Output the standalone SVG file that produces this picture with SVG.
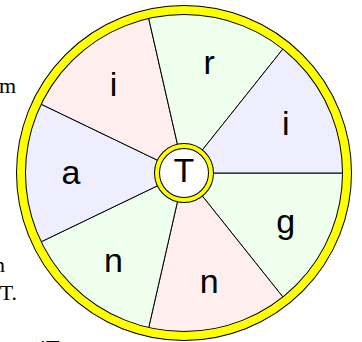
<svg xmlns="http://www.w3.org/2000/svg" width="362" height="342" viewBox="0 0 362 342">
<style>
.lbl{font-family:"Liberation Sans",Arial,sans-serif;font-size:34px;fill:#000;text-anchor:middle}
.side{font-family:"Liberation Serif","Times New Roman",serif;font-size:22px;fill:#000}
.w{stroke:#000;stroke-width:1}
.pink{fill:#ffeeee}
.green{fill:#eeffee}
.lav{fill:#eeeeff}
</style>
<rect width="362" height="342" fill="#fff"/>
<text class="side" x="16" y="93" text-anchor="end">m</text>
<text class="side" x="5" y="272" text-anchor="end">n</text>
<text class="side" x="17" y="300" text-anchor="end">T.</text>
<text class="side" x="40" y="355">iT</text>
<g id="wedges">
<g id="w-g"><path class="w green" d="M184,173 L348,173 A164,164 0 0 1 286.25,301.22 Z"/></g>
<g id="w-n1"><path class="w pink" d="M184,173 L286.25,301.22 A164,164 0 0 1 147.51,332.89 Z"/></g>
<g id="w-n2"><path class="w green" d="M184,173 L147.51,332.89 A164,164 0 0 1 36.24,244.16 Z"/></g>
<g id="w-a"><path class="w lav" d="M184,173 L36.24,244.16 A164,164 0 0 1 36.24,101.84 Z"/></g>
<g id="w-i1"><path class="w pink" d="M184,173 L36.24,101.84 A164,164 0 0 1 147.51,13.11 Z"/></g>
<g id="w-r"><path class="w green" d="M184,173 L147.51,13.11 A164,164 0 0 1 286.25,44.78 Z"/></g>
<g id="w-i2"><path class="w lav" d="M184,173 L286.25,44.78 A164,164 0 0 1 348,173 Z"/></g>
</g>
<g id="rim">
<circle cx="184" cy="173" r="163" fill="none" stroke="#000" stroke-width="10"/>
<circle cx="184" cy="173" r="163" fill="none" stroke="#ffff00" stroke-width="8"/>
</g>
<g id="labels">
<text class="lbl" x="285.8" y="233">g</text>
<text class="lbl" x="209.1" y="293">n</text>
<text class="lbl" x="113.5" y="272">n</text>
<text class="lbl" x="71" y="184">a</text>
<text class="lbl" x="113.5" y="96">i</text>
<text class="lbl" x="209.1" y="74">r</text>
<text class="lbl" x="285.8" y="135">i</text>
</g>
<g id="hub">
<circle cx="184" cy="173" r="27" fill="#fff" stroke="#000" stroke-width="6"/>
<circle cx="184" cy="173" r="27" fill="none" stroke="#ffff00" stroke-width="4"/>
<text class="lbl" x="184" y="182">T</text>
</g>
</svg>
